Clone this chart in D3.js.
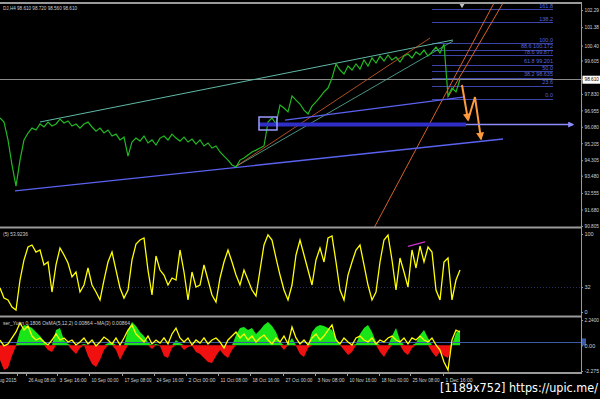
<!DOCTYPE html>
<html>
<head>
<meta charset="utf-8">
<script src="https://cdn.jsdelivr.net/npm/d3@7"></script>
<style>
body { margin: 0; background: #000; }
svg { display: block; font-family: "Liberation Sans", sans-serif; }
</style>
</head>
<body>
<script>
// price closes, one per H4 bar
var closes = [96.55, 96.33, 95.38, 94.05, 92.93, 94.31, 95.38, 95.75, 96.01, 95.91,
  96.23, 96.07, 96.33, 96.12, 96.23, 96.49, 96.28, 96.39, 96.12, 96.23,
  96.01, 96.23, 96.33, 96.07, 95.85, 96.01, 95.75, 95.91, 95.59, 95.69,
  95.38, 95.53, 94.52, 95.27, 95.48, 95.32, 95.59, 95.22, 95.38, 95.11,
  95.48, 95.59, 95.38, 95.69, 95.48, 95.32, 95.53, 95.27, 95.43, 95.16,
  95.38, 95.06, 95.22, 94.95, 95.06, 94.74, 94.52, 94.31, 94.05, 93.94,
  94.31, 94.42, 94.58, 94.74, 94.84, 94.95, 95.06, 96.33, 96.55, 96.23,
  97.24, 97.08, 96.87, 97.72, 97.50, 97.29, 96.97, 96.76, 97.18, 97.40,
  97.66, 97.93, 98.14, 98.67, 99.42, 99.10, 98.89, 99.31, 99.10, 99.42,
  99.15, 99.63, 99.31, 99.74, 99.47, 99.84, 99.58, 99.90, 99.63, 99.79,
  99.52, 99.84, 99.95, 99.74, 100.06, 99.90, 100.16, 99.84, 100.06, 100.32,
  100.00, 100.48, 97.72, 98.14, 97.93, 98.61];

var rsi = [30.8, 17.9, 15.4, 6.4, 2.6, 41.0, 66.7, 83.3, 85.9, 76.9,
  79.5, 60.3, 64.1, 25.6, 60.3, 82.1, 73.1, 62.8, 44.9, 51.3,
  25.6, 34.6, 56.4, 34.6, 25.6, 15.4, 41.0, 64.1, 76.9, 53.8,
  30.8, 17.9, 28.2, 66.7, 87.2, 92.3, 94.9, 53.8, 21.8, 71.8,
  53.8, 47.4, 34.6, 43.6, 41.0, 79.5, 51.3, 15.4, 51.3, 32.1,
  34.6, 60.3, 41.0, 21.8, 12.8, 43.6, 64.1, 79.5, 64.1, 47.4,
  34.6, 53.8, 41.0, 28.2, 20.5, 53.8, 85.9, 99.0, 92.3, 69.2,
  47.4, 28.2, 15.4, 34.6, 73.1, 92.3, 73.1, 53.8, 34.6, 66.7,
  82.1, 64.1, 94.9, 97.4, 64.1, 28.2, 15.4, 47.4, 64.1, 79.5,
  85.9, 60.3, 34.6, 15.4, 25.6, 64.1, 92.3, 98.7, 66.7, 28.2,
  69.2, 51.3, 32.1, 79.5, 56.4, 84.6, 64.1, 83.3, 76.9, 28.2,
  15.4, 64.1, 69.2, 15.4, 41.0, 53.9];

var osma = [-1.30, -2.19, -2.01, -0.95, -0.06, 1.27, 1.80, 1.71, 1.53, 1.18,
  0.82, 0.38, -0.42, -0.60, 1.35, 1.53, 0.47, 0.12, -0.42, -0.77,
  -0.24, 0.12, -0.95, -1.65, -1.92, -1.30, -0.42, 0.20, 0.29, -0.42,
  -1.30, -0.60, 1.35, 2.06, 1.71, 1.18, 0.82, 0.29, -0.33, 0.12,
  -0.06, -0.95, -1.12, -0.24, 0.47, 0.20, -0.42, -0.15, -0.06, -0.60,
  -0.77, -1.12, -1.48, -1.57, -0.95, -0.42, -0.86, -1.12, -0.42, 0.91,
  1.53, 1.62, 1.35, 1.53, 1.00, 1.35, 1.80, 2.06, 1.71, 1.18,
  0.29, -0.42, 0.12, 0.65, -0.06, -0.77, -1.04, -0.24, 1.18, 1.62,
  1.80, 1.71, 1.53, 1.35, 0.65, 0.03, -0.42, -0.86, -0.60, 0.12,
  1.00, 1.53, 1.80, 1.18, 0.29, -0.60, -1.04, -0.42, 0.82, 1.53,
  0.47, -0.60, -0.86, -0.24, 0.20, 0.91, 1.35, 0.65, -0.60, -1.04,
  -0.60, -0.95, -1.12, 0.03, 1.09, 1.35];

var signal = [0.47, -0.06, 0.12, 0.65, 1.18, 1.97, 1.35, 1.71, 0.82, 0.47,
  0.65, 0.29, 0.03, 0.47, 1.00, 0.47, 0.65, 0.29, 0.47, 0.03,
  0.29, 0.65, 0.12, 0.47, -0.06, 0.29, 0.73, 0.47, 0.12, 0.65,
  0.03, 0.65, 1.35, 1.80, 1.00, 0.65, 0.29, 0.82, 0.12, 0.47,
  0.20, 0.65, 0.12, 1.00, 1.53, 0.65, 0.29, 0.65, 0.03, 0.47,
  0.20, 0.65, 0.12, 0.47, 0.65, 0.29, -0.24, 0.47, 0.82, 1.18,
  0.65, 1.00, 0.47, 0.82, 0.29, 0.65, 0.91, 0.47, 0.12, 0.65,
  0.29, 0.82, 0.12, 1.62, 0.65, 0.12, 0.47, 0.03, 0.65, 1.00,
  0.47, 0.82, 1.35, 1.80, 0.47, 0.12, 0.65, 0.29, 0.03, 0.65,
  0.82, 0.47, 0.29, 0.65, 0.12, 0.47, 0.29, 0.65, 0.82, 0.47,
  0.29, 0.65, 0.12, 0.65, 0.47, 0.82, 0.47, 0.29, 0.65, 0.03,
  -0.42, -1.48, -2.19, 0.47, 1.35, 1.18];

// drawn objects, [bar, price]
var channelTop = [[10, 96.335], [113.25, 100.695]];
var orangeFromLow = [[58.75, 93.94], [107.5, 100.80]];
var tealFromLow = [[58.75, 93.94], [113.25, 100.64]];
var orangeSteepA = [[93.5, 90.70], [123.5, 102.66]];
var orangeSteepB = [[112, 97.66], [125.75, 102.66]];
var blueLower = [[3.75, 92.67], [125.75, 95.43]];
var blueUpper = [[71.25, 96.44], [115.75, 97.66]];
var bandLine = [[64.75, 96.20], [116.5, 96.20], [143.25, 96.20]];
var boxCorners = [[64.75, 96.60], [69.25, 95.91]];
var zigzag = [[115.5, 98.30], [117, 96.44], [118.75, 97.66], [120.25, 95.43]];
var rsiTrend = [[102, 84], [106.25, 90]];

var fibLow = 97.56, fibHigh = 100.51;
var fibBars = [108, 138.25];
var fibLevels = [0, 23.6, 38.2, 50, 61.8, 78.6, 88.6, 100, 138.2, 161.8];
var fibLabels = ['0.0', '23.6', '38.2  98.635', '50.0', '61.8  99.201', '78.6  99.877',
  '88.6  100.172', '100.0', '138.2', '161.8'];

var priceTicks = [102.29, 101.38, 100.40, 99.605, 98.610, 97.830, 96.955, 96.080,
  95.205, 94.305, 93.480, 92.555, 91.680, 90.805];
var priceTickLabels = ['102.29', '101.38', '100.40', '99.605', '98.610', '97.830', '96.955',
  '96.080', '95.205', '94.305', '93.480', '92.555', '91.680', '90.805'];
var rsiTicks = [100, 32, 0];
var oscTicks = [2.24, 0, -2.275];
var oscTickLabels = ['2.2400', '0.00', '-2.275'];
var rsiLevel = 32, oscLevel = 0.3;

var timeBars = [4.25, 6.5, 14.25, 22.25, 30.5, 38.5, 46.5, 54.5, 62.5, 70.75, 78.75, 86.75, 94.75, 102.5, 110.75];
var timeLabels = ['20 Aug 2015', '26 Aug 08:00', '3 Sep 16:00', '10 Sep 00:00', '17 Sep 08:00',
  '24 Sep 16:00', '2 Oct 00:00', '11 Oct 08:00', '18 Oct 16:00', '27 Oct 00:00',
  '3 Nov 08:00', '10 Nov 16:00', '18 Nov 00:00', '25 Nov 08:00', '1 Dec 16:00'];

var lastPrice = 98.61;

var width = 600, height = 399, plotRight = 581;

var svg = d3.select('body').append('svg')
  .attr('width', width)
  .attr('height', height)
  .style('background', '#000');

var defs = svg.append('defs');
defs.append('clipPath').attr('id', 'clipMain')
  .append('rect').attr('x', 0).attr('y', 4).attr('width', plotRight).attr('height', 223);
defs.append('clipPath').attr('id', 'clipRsi')
  .append('rect').attr('x', 0).attr('y', 229).attr('width', plotRight).attr('height', 87);
defs.append('clipPath').attr('id', 'clipOsc')
  .append('rect').attr('x', 0).attr('y', 318).attr('width', plotRight + 4).attr('height', 55);

function marker(id, colour) {
  defs.append('marker')
    .attr('id', id)
    .attr('viewBox', '0 0 10 10')
    .attr('refX', 8).attr('refY', 5)
    .attr('markerWidth', 4).attr('markerHeight', 4)
    .attr('orient', 'auto')
    .append('path')
      .attr('d', 'M0,0L10,5L0,10z')
      .attr('fill', colour);
}
marker('arrOrange', '#ff9a3c');
marker('arrBlue', '#8c8cff');

var x = d3.scaleLinear().domain([0, 145.25]).range([0, plotRight]);
var yMain = d3.scaleLinear().domain([90.805, 102.29]).range([226, 10]);
var yRsi = d3.scaleLinear().domain([0, 100]).range([312, 234]);
var yOsc = d3.scaleLinear().domain([-2.275, 2.24]).range([371, 320]);

var seg = d3.line()
  .x(function(d) { return x(d[0]); })
  .y(function(d) { return yMain(d[1]); });

// ---- main pane ----
var main = svg.append('g').attr('clip-path', 'url(#clipMain)');

// fibonacci
var fibRange = fibHigh - fibLow;
var fib = main.append('g');
fib.selectAll('line')
  .data(fibLevels)
  .enter()
  .append('line')
    .attr('x1', x(fibBars[0]))
    .attr('x2', x(fibBars[1]))
    .attr('y1', function(d) { return Math.round(yMain(fibLow + fibRange * d / 100)) + 0.5; })
    .attr('y2', function(d) { return Math.round(yMain(fibLow + fibRange * d / 100)) + 0.5; })
    .attr('stroke', '#3c44a8')
    .attr('stroke-width', 1);
fib.selectAll('text')
  .data(fibLevels)
  .enter()
  .append('text')
    .attr('x', x(fibBars[1]))
    .attr('y', function(d) { return yMain(fibLow + fibRange * d / 100) - 1.5; })
    .attr('text-anchor', 'end')
    .attr('font-size', 5.5)
    .attr('fill', '#5a64d8')
    .text(function(d, i) { return fibLabels[i]; });

// bid line
main.append('line')
  .attr('x1', 0).attr('x2', plotRight)
  .attr('y1', Math.round(yMain(lastPrice)) + 0.5)
  .attr('y2', Math.round(yMain(lastPrice)) + 0.5)
  .attr('stroke', '#8a8a8a');

main.append('path').datum(channelTop).attr('d', seg)
  .attr('fill', 'none').attr('stroke', '#5fb8a6').attr('stroke-width', 1);
main.append('path').datum(tealFromLow).attr('d', seg)
  .attr('fill', 'none').attr('stroke', '#5fb8a6').attr('stroke-width', 0.8);
main.append('path').datum(orangeFromLow).attr('d', seg)
  .attr('fill', 'none').attr('stroke', '#d8622a').attr('stroke-width', 0.8);
main.append('path').datum(orangeSteepA).attr('d', seg)
  .attr('fill', 'none').attr('stroke', '#d8622a').attr('stroke-width', 1);
main.append('path').datum(orangeSteepB).attr('d', seg)
  .attr('fill', 'none').attr('stroke', '#d8622a').attr('stroke-width', 1);
main.append('path').datum(blueLower).attr('d', seg)
  .attr('fill', 'none').attr('stroke', '#5a62f0').attr('stroke-width', 1.3);
main.append('path').datum(blueUpper).attr('d', seg)
  .attr('fill', 'none').attr('stroke', '#5a62f0').attr('stroke-width', 1.3);

// price line
main.append('path')
  .datum(closes)
  .attr('d', d3.line()
    .x(function(d, i) { return x(i); })
    .y(function(d) { return yMain(d); }))
  .attr('fill', 'none')
  .attr('stroke', '#22b822')
  .attr('stroke-width', 1.2);

// horizontal band + arrow
svg.append('path').datum(bandLine.slice(0, 2)).attr('d', seg)
  .attr('stroke', '#2f2fc8').attr('stroke-width', 4).attr('fill', 'none');
svg.append('path').datum(bandLine.slice(1)).attr('d', seg)
  .attr('stroke', '#8c8cff').attr('stroke-width', 1.5).attr('fill', 'none')
  .attr('marker-end', 'url(#arrBlue)');
svg.append('rect')
  .attr('x', x(boxCorners[0][0]))
  .attr('y', yMain(boxCorners[0][1]))
  .attr('width', x(boxCorners[1][0]) - x(boxCorners[0][0]))
  .attr('height', yMain(boxCorners[1][1]) - yMain(boxCorners[0][1]))
  .attr('fill', 'none').attr('stroke', '#9c9cff').attr('stroke-width', 1.5);

// projected zigzag
main.append('path').datum(zigzag.slice(0, 2)).attr('d', seg)
  .attr('fill', 'none').attr('stroke', '#ff9a3c').attr('stroke-width', 2)
  .attr('marker-end', 'url(#arrOrange)');
main.append('path').datum(zigzag.slice(1)).attr('d', seg)
  .attr('fill', 'none').attr('stroke', '#ff9a3c').attr('stroke-width', 2)
  .attr('marker-end', 'url(#arrOrange)');

// shift marker
svg.append('path')
  .attr('d', d3.symbol().type(d3.symbolTriangle).size(14))
  .attr('transform', 'translate(' + x(closes.length - 0.5) + ',5) rotate(180)')
  .attr('fill', '#c0c0c0');

// ---- RSI pane ----
var rsiG = svg.append('g').attr('clip-path', 'url(#clipRsi)');
rsiG.append('line')
  .attr('x1', 0).attr('x2', plotRight)
  .attr('y1', Math.round(yRsi(rsiLevel)) + 0.5).attr('y2', Math.round(yRsi(rsiLevel)) + 0.5)
  .attr('stroke', '#2a3060').attr('stroke-dasharray', '1,2');
rsiG.append('path')
  .datum(rsi)
  .attr('d', d3.line()
    .x(function(d, i) { return x(i); })
    .y(function(d) { return yRsi(d); }))
  .attr('fill', 'none')
  .attr('stroke', '#ffff00')
  .attr('stroke-width', 1.3);
rsiG.append('path')
  .datum(rsiTrend)
  .attr('d', d3.line()
    .x(function(d) { return x(d[0]); })
    .y(function(d) { return yRsi(d[1]); }))
  .attr('stroke', '#d030d0').attr('stroke-width', 1.3);

// ---- OsMA pane ----
var oscG = svg.append('g').attr('clip-path', 'url(#clipOsc)');
oscG.append('path')
  .datum(osma)
  .attr('d', d3.area()
    .x(function(d, i) { return x(i); })
    .y0(yOsc(0))
    .y1(function(d) { return yOsc(Math.max(0, d)); }))
  .attr('fill', '#19e619');
oscG.append('path')
  .datum(osma)
  .attr('d', d3.area()
    .x(function(d, i) { return x(i); })
    .y0(yOsc(0))
    .y1(function(d) { return yOsc(Math.min(0, d)); }))
  .attr('fill', '#f01010');
oscG.append('line')
  .attr('x1', 0).attr('x2', plotRight + 4)
  .attr('y1', Math.round(yOsc(oscLevel)) + 0.5).attr('y2', Math.round(yOsc(oscLevel)) + 0.5)
  .attr('stroke', '#3a5aa8');
oscG.append('path')
  .datum(signal)
  .attr('d', d3.line()
    .x(function(d, i) { return x(i); })
    .y(function(d) { return yOsc(d); }))
  .attr('fill', 'none')
  .attr('stroke', '#ffff00')
  .attr('stroke-width', 1.3);
svg.append('rect')
  .attr('x', plotRight + 1).attr('y', yOsc(oscLevel) - 3.5)
  .attr('width', 4).attr('height', 7)
  .attr('fill', '#3a5aa8');

// ---- frames ----
var grey = '#9a9a9a';
[3, 227.5, 316.5, 373].forEach(function(yy) {
  svg.append('line')
    .attr('x1', 0).attr('x2', plotRight)
    .attr('y1', yy).attr('y2', yy)
    .attr('stroke', grey).attr('stroke-width', 2);
});
svg.append('line')
  .attr('x1', plotRight + 0.5).attr('x2', plotRight + 0.5)
  .attr('y1', 2).attr('y2', 374)
  .attr('stroke', grey).attr('stroke-width', 1);

// ---- axes ----
function styleAxis(g) {
  g.select('.domain').remove();
  g.selectAll('.tick line').attr('stroke', grey);
  g.selectAll('.tick text')
    .attr('fill', '#d0d0d0')
    .attr('font-size', 5.5)
    .attr('font-family', '"Liberation Sans", sans-serif');
}

// squeeze long tick labels into the narrow axis strip
function fitLabels(g, maxW) {
  g.selectAll('.tick text').each(function() {
    if (this.getComputedTextLength() > maxW) {
      d3.select(this).attr('textLength', maxW).attr('lengthAdjust', 'spacingAndGlyphs');
    }
  });
}

var priceAxis = svg.append('g')
  .attr('transform', 'translate(' + plotRight + ',0)')
  .call(d3.axisRight(yMain)
    .tickValues(priceTicks)
    .tickSize(2)
    .tickPadding(1.5)
    .tickFormat(function(d, i) { return priceTickLabels[i]; }))
  .call(styleAxis)
  .call(fitLabels, 14.5);
priceAxis.selectAll('.tick')
  .filter(function(d) { return d === lastPrice; })
  .each(function() {
    var t = d3.select(this);
    t.insert('rect', 'text')
      .attr('x', 1.5).attr('y', -4).attr('width', 17.5).attr('height', 8)
      .attr('fill', '#ffffff');
    t.select('text').attr('fill', '#000');
  });

svg.append('g')
  .attr('transform', 'translate(' + plotRight + ',0)')
  .call(d3.axisRight(yRsi)
    .tickValues(rsiTicks)
    .tickSize(2)
    .tickPadding(1.5)
    .tickFormat(function(d) { return d; }))
  .call(styleAxis);

svg.append('g')
  .attr('transform', 'translate(' + plotRight + ',0)')
  .call(d3.axisRight(yOsc)
    .tickValues(oscTicks)
    .tickSize(2)
    .tickPadding(1.5)
    .tickFormat(function(d, i) { return oscTickLabels[i]; }))
  .call(styleAxis)
  .call(fitLabels, 14.5);

var timeAxis = svg.append('g')
  .attr('transform', 'translate(0,373)')
  .call(d3.axisBottom(x)
    .tickValues(timeBars)
    .tickSize(3)
    .tickPadding(2)
    .tickFormat(function(d, i) { return timeLabels[i]; }))
  .call(styleAxis)
  .call(fitLabels, 27);
timeAxis.selectAll('.tick text')
  .attr('text-anchor', function(d, i) { return i === 0 ? 'end' : 'start'; })
  .attr('dx', function(d, i) { return i === 0 ? '-1' : '2'; });

// ---- labels ----
function label(txt, xx, yy, w) {
  svg.append('text')
    .attr('x', xx).attr('y', yy)
    .attr('font-size', 6)
    .attr('fill', '#d0d0d0')
    .attr('textLength', w)
    .attr('lengthAdjust', 'spacingAndGlyphs')
    .text(txt);
}
label('DJ,H4  98.610 98.720 98.560 98.610', 3, 10, 74);
label('(5) 53.9236', 3, 236, 25);
label('ser_Yuen 0.1806   OsMA(5,12,2) 0.00864   ~MA(3) 0.00864', 3, 325, 127);

svg.append('text')
  .attr('x', 440).attr('y', 392)
  .attr('font-size', 13)
  .attr('font-family', '"DejaVu Sans", sans-serif')
  .attr('fill', '#ffffff')
  .attr('textLength', 158)
  .attr('lengthAdjust', 'spacingAndGlyphs')
  .text('[1189x752] https://upic.me/');
</script>
</body>
</html>
